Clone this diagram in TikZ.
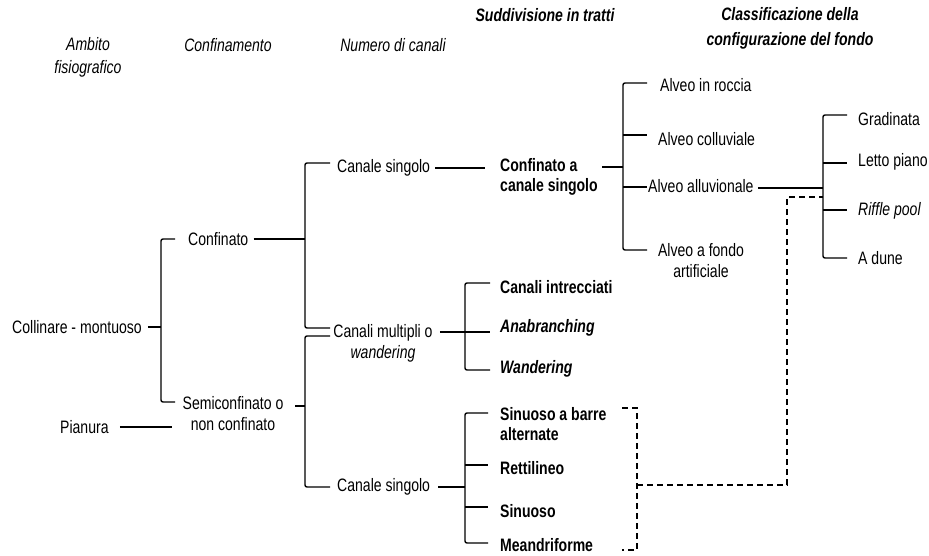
\documentclass[tikz,border=0pt]{standalone}
\usepackage{fontspec}
\setmainfont{Liberation Sans}[FakeStretch=0.78]
\begin{document}
\begin{tikzpicture}[x=1pt,y=-1pt,
  every node/.style={inner sep=0pt, font=\fontsize{18}{21}\selectfont},
  lbl/.style={anchor=west},
  lblc/.style={align=center},
  bl/.style={anchor=west, align=left, font=\fontsize{18}{20}\selectfont\bfseries},
  bli/.style={anchor=west, font=\fontsize{18}{20}\selectfont\bfseries\itshape},
  hd/.style={align=center, font=\fontsize{18}{23}\selectfont\itshape},
  hdb/.style={align=center, font=\fontsize{18}{25}\selectfont\bfseries\itshape},
  ln/.style={line width=1.4pt, rounded corners=2pt},
  thk/.style={line width=2.2pt},
  dsh/.style={line width=1.1pt, dash pattern=on 6pt off 4pt}]
\useasboundingbox (0,0) rectangle (929,555);

% column headings
\node[hd]  (hAmb) at (88,57)  {Ambito\\fisiografico};
\node[hd]  (hConf) at (228,45) {Confinamento};
\node[hd]  (hNum) at (393,45) {Numero di canali};
\node[hdb] (hSud) at (545,15) {Suddivisione in tratti};
\node[hdb] (hCla) at (790,28) {Classificazione della\\configurazione del fondo};

% physiographic setting
\node[lbl] (coll) at (12,327) {Collinare - montuoso};
\node[lbl] (pian) at (60,427) {Pianura};

% confinement
\node[lbl]  (conf) at (188,239) {Confinato};
\node[lblc] (semi) at (233,414) {Semiconfinato o\\non confinato};

% number of channels
\node[lbl]  (cs1) at (337,168) {Canale singolo};
\node[lblc] (cm)  at (383,343) {Canali multipli o\\\textit{wandering}};
\node[lbl]  (cs2) at (337,487) {Canale singolo};

% reaches
\node[bl]  (ca)  at (500,177) {Confinato a\\canale singolo};
\node[bl]  (ci)  at (500,287) {Canali intrecciati};
\node[bli] (ana) at (500,328) {Anabranching};
\node[bli] (wan) at (500,369) {Wandering};
\node[bl]  (sab) at (500,424) {Sinuoso a barre\\alternate};
\node[bl]  (ret) at (500,468) {Rettilineo};
\node[bl]  (sin) at (500,511) {Sinuoso};
\node[bl]  (mea) at (500,545) {Meandriforme};

% bed types
\node[lbl]  (roc) at (660,85)  {Alveo in roccia};
\node[lbl]  (col) at (658,139) {Alveo colluviale};
\node[lbl]  (all) at (648,186) {Alveo alluvionale};
\node[lblc] (art) at (701,261) {Alveo a fondo\\artificiale};

% bed configuration
\node[lbl] (gra) at (858,119) {Gradinata};
\node[lbl] (let) at (858,162) {Letto piano};
\node[lbl] (rif) at (858,211) {\textit{Riffle pool}};
\node[lbl] (adu) at (858,258) {A dune};

% branching points
\coordinate (sA) at (161,327);
\coordinate (sD) at (623,167);
\coordinate (sE) at (823,188);
\coordinate (sF) at (465,332);
\coordinate (sG) at (465,487);

% level 1
\draw[ln] ([xshift=6pt]coll.east) -- (sA);
\draw[ln] (175,239) -- (161,239) -- (161,402) -- (175,402);
\draw[ln] ([xshift=11pt]pian.east) -- ([xshift=-10pt]semi.west |- pian);

% level 2
\draw[ln] ([xshift=5pt]conf.east) -- (305,239);
\draw[ln] (330,163) -- (305,163) -- (305,328) -- (330,328);
\draw[ln] (295,406) -- (305,406);
\draw[ln] (330,336) -- (305,336) -- (305,487) -- (330,487);

% level 3
\draw[ln] ([xshift=5pt]cs1.east) -- ([xshift=-15pt]ca.west |- cs1);
\draw[ln] ([xshift=7pt]cm.east |- sF) -- (sF) -- (490,332);
\draw[ln] (490,283) -- (465,283) -- (465,370) -- (490,370);
\draw[ln] ([xshift=8pt]cs2.east) -- (sG);
\draw[ln] (488,413) -- (465,413) -- (465,543) -- (488,543);
\draw[ln] (465,465) -- (488,465);
\draw[ln] (465,507) -- (488,507);

% level 4
\draw[ln] (602,167) -- (sD);
\draw[ln] (647,83) -- (623,83) -- (623,250) -- (647,250);
\draw[ln] (623,135) -- (647,135);
\draw[ln] (623,187) -- (647,187);

% level 5
\draw[thk] ([xshift=4pt]all.east |- sE) -- (sE);
\draw[ln] (847,115) -- (823,115) -- (823,258) -- (847,258);
\draw[ln] (823,163) -- (847,163);
\draw[ln] (823,210) -- (847,210);

% alluvial single-channel reaches linked to bed configuration
\draw[dsh] (622,408) -- (637,408) -- (637,550) -- (622,550);
\draw[dsh] (637,485) -- (787,485) -- (787,197) -- (823,197);
\end{tikzpicture}
\end{document}
